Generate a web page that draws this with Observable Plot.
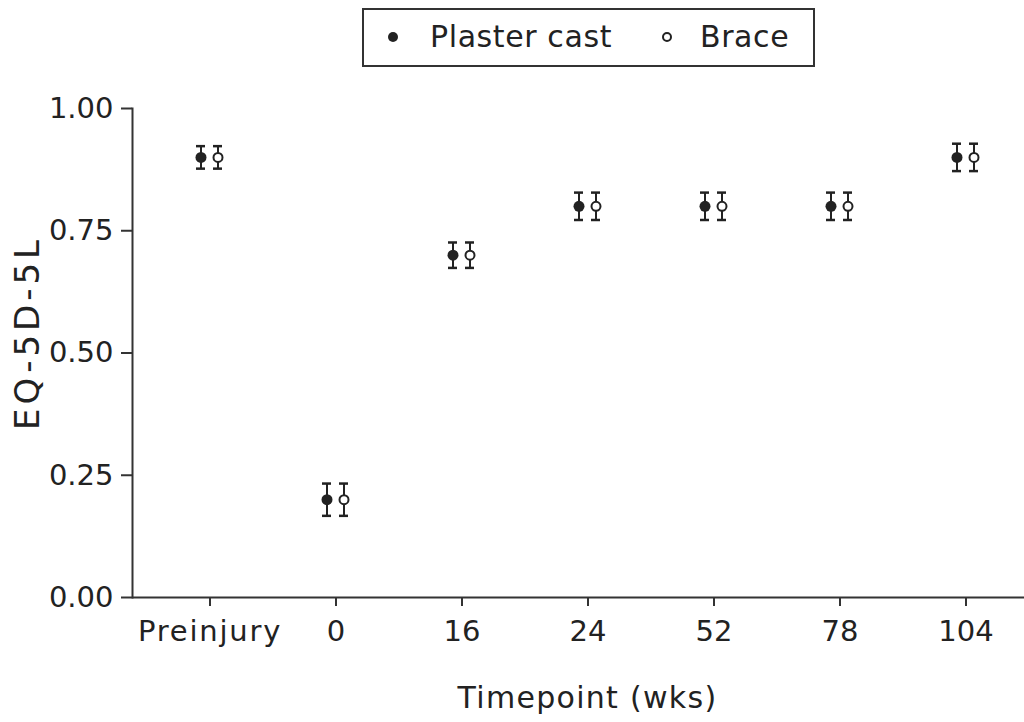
<!DOCTYPE html>
<html><head><meta charset="utf-8">
<script src="https://cdn.jsdelivr.net/npm/d3@7"></script>
<script src="https://cdn.jsdelivr.net/npm/@observablehq/plot@0.6"></script>
<style>
body{margin:0;background:#fff;font-family:"DejaVu Sans",sans-serif;color:#222;width:1024px;}
#legend{position:relative;height:75px;width:1024px;}
#box{position:absolute;left:362px;top:8px;width:449px;height:55px;border:2px solid #333;}
.lab{position:absolute;font-size:30px;line-height:30px;top:12px;white-space:nowrap;letter-spacing:0.6px;}
.sym{position:absolute;border-radius:50%;box-sizing:border-box;}
</style></head>
<body>
<div id="legend"><div id="box">
  <span class="sym" style="left:24px;top:22px;width:10px;height:10px;background:#222;"></span>
  <span class="lab" style="left:66px;">Plaster cast</span>
  <span class="sym" style="left:298px;top:22px;width:10px;height:10px;border:2px solid #222;background:#fff;"></span>
  <span class="lab" style="left:336px;">Brace</span>
</div></div>
<div id="chart"></div>
<script>
const categories = ["Preinjury", "0", "16", "24", "52", "78", "104"];
const plasterMean = [0.90, 0.20, 0.70, 0.80, 0.80, 0.80, 0.90];
const plasterErr  = [0.023, 0.033, 0.026, 0.028, 0.028, 0.028, 0.028];
const braceMean   = [0.90, 0.20, 0.70, 0.80, 0.80, 0.80, 0.90];
const braceErr    = [0.023, 0.033, 0.026, 0.028, 0.028, 0.028, 0.028];
const yTicks = [0, 0.25, 0.5, 0.75, 1.0];
const xTitle = "Timepoint (wks)";
const yTitle = "EQ-5D-5L";

const plasterRows = categories.map((c, i) => ({cat: c, value: plasterMean[i], err: plasterErr[i]}));
const braceRows = categories.map((c, i) => ({cat: c, value: braceMean[i], err: braceErr[i]}));
const ink = "#222";

function series(rows, dx, filled) {
  return [
    Plot.ruleX(rows, {x: "cat", y1: d => d.value - d.err, y2: d => d.value + d.err, dx, stroke: ink, strokeWidth: 2}),
    Plot.tickY(rows, {x: "cat", y: d => d.value - d.err, dx, stroke: ink, strokeWidth: 2.5}),
    Plot.tickY(rows, {x: "cat", y: d => d.value + d.err, dx, stroke: ink, strokeWidth: 2.5}),
    filled
      ? Plot.dot(rows, {x: "cat", y: "value", dx, r: 5.5, fill: ink, stroke: "none"})
      : Plot.dot(rows, {x: "cat", y: "value", dx, r: 4.5, fill: "white", stroke: ink, strokeWidth: 2})
  ];
}

const chart = Plot.plot({
  width: 1024, height: 647,
  marginLeft: 132, marginRight: 0, marginTop: 33, marginBottom: 125,
  style: {fontFamily: "DejaVu Sans, sans-serif", fontSize: "29px", color: ink, background: "white", overflow: "visible"},
  x: {type: "band", domain: categories, paddingInner: 0.93, paddingOuter: 0, insetLeft: 71.6, insetRight: 53.6},
  y: {domain: [0, 1]},
  marks: [
    Plot.frame({anchor: "left", stroke: "#333", strokeWidth: 2}),
    Plot.ruleY([0], {stroke: "#333", strokeWidth: 2}),
    Plot.axisY({ticks: yTicks, tickFormat: d3.format(".2f"), tickSize: 11, tickPadding: 8, label: null, stroke: "#333", strokeWidth: 2}),
    Plot.axisX({tickSize: 9, tickPadding: 14, label: null, stroke: "#333", strokeWidth: 2}),
    ...series(plasterRows, -9, true),
    ...series(braceRows, 8, false),
    Plot.text([yTitle], {frameAnchor: "left", rotate: -90, dx: -104, dy: -20, fontSize: 34, textAnchor: "middle", fill: ink, lineAnchor: "middle"}),
    Plot.text([xTitle], {frameAnchor: "bottom", dx: 9, dy: 101, fontSize: 30, textAnchor: "middle", fill: ink, lineAnchor: "middle"})
  ]
});
document.getElementById("chart").appendChild(chart);
const svg = d3.select(chart);
svg.selectAll("text").filter(function() { return /[A-Za-z]/.test(this.textContent); })
  .style("letter-spacing", "1.8px");
svg.selectAll("text").filter(function() { return this.textContent === xTitle; })
  .style("letter-spacing", "1.3px");
svg.selectAll("text").filter(function() { return this.textContent === yTitle; })
  .style("letter-spacing", "4px");
</script>
</body></html>
